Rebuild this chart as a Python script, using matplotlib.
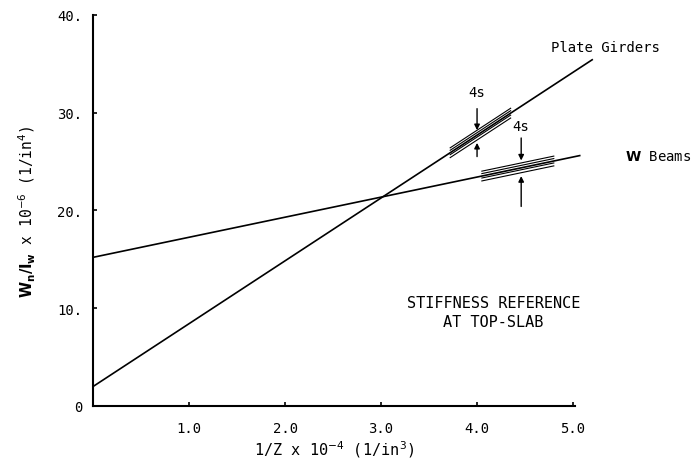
import matplotlib.pyplot as plt

# data
x_ticks = [1.0, 2.0, 3.0, 4.0, 5.0]
x_tick_labels = ['1.0', '2.0', '3.0', '4.0', '5.0']
y_ticks = [0, 10, 20, 30, 40]
y_tick_labels = ['0', '10.', '20.', '30.', '40.']

girder_x = [0.0, 5.2]
girder_y = [2.0, 35.4]
beam_x = [0.0, 5.07]
beam_y = [15.2, 25.6]

# scatter bands (x from, x to) and offsets from the fit line
girder_band = [3.72, 4.35]
beam_band = [4.05, 4.8]
band_offsets = [-0.5, -0.2, 0.25, 0.5]

# 4s arrows: x, outer top, tip top, tip bottom, outer bottom, label y
girder_arrow = [4.0, 30.4, 28.2, 26.9, 25.5, 32.1]
beam_arrow = [4.46, 27.4, 25.1, 23.5, 20.4, 28.6]

font = 'DejaVu Sans Mono'
plt.rcParams['mathtext.fontset'] = 'dejavusans'


def line_at(xs, ys, x):
    return ys[0] + (ys[1] - ys[0]) * (x - xs[0]) / (xs[1] - xs[0])


fig = plt.figure(figsize=(6.91, 4.64), dpi=100)
ax = fig.add_axes([0.135, 0.123, 0.697, 0.843])

ax.plot(girder_x, girder_y, color='black', lw=1.2, clip_on=False)
ax.plot(beam_x, beam_y, color='black', lw=1.2, clip_on=False)

for xs, ys, band in [(girder_x, girder_y, girder_band), (beam_x, beam_y, beam_band)]:
    for off in band_offsets:
        y0 = line_at(xs, ys, band[0]) + off
        y1 = line_at(xs, ys, band[1]) + off
        ax.plot(band, [y0, y1], color='black', lw=0.8, clip_on=False)

for a in [girder_arrow, beam_arrow]:
    x = a[0]
    ax.annotate('', xy=(x, a[2]), xytext=(x, a[1]),
                arrowprops=dict(arrowstyle='-|>', color='black', lw=1.0,
                                mutation_scale=8, shrinkA=0, shrinkB=0))
    ax.annotate('', xy=(x, a[3]), xytext=(x, a[4]),
                arrowprops=dict(arrowstyle='-|>', color='black', lw=1.0,
                                mutation_scale=8, shrinkA=0, shrinkB=0))
    ax.text(x, a[5], '4s', ha='center', va='center', fontsize=10, family=font)

ax.text(4.77, 36.7, 'Plate Girders', ha='left', va='center', fontsize=10, family=font)
ax.text(5.54, 25.6, r'$\mathbf{W}$ Beams', ha='left', va='center', fontsize=10,
        family=font, clip_on=False)
ax.text(4.17, 9.6, 'STIFFNESS REFERENCE\nAT TOP-SLAB', ha='center', va='center',
        fontsize=11, family=font, linespacing=1.4)

ax.set_xlim(0, 5.02)
ax.set_ylim(0, 40)
ax.set_xticks(x_ticks)
ax.set_xticklabels(x_tick_labels, family=font, fontsize=10)
ax.set_yticks(y_ticks)
ax.set_yticklabels(y_tick_labels, family=font, fontsize=10)
ax.tick_params(direction='in', length=3, width=1.2)
ax.tick_params(axis='x', pad=11)
ax.tick_params(axis='y', pad=8)

ax.spines['top'].set_visible(False)
ax.spines['right'].set_visible(False)
ax.spines['left'].set_linewidth(1.5)
ax.spines['bottom'].set_linewidth(1.5)

ax.set_xlabel(r'1/Z x 10$^{-4}$ (1/in$^3$)', family=font, fontsize=11, labelpad=2)
ax.set_ylabel(r'$\mathbf{W_n/I_w}$ x 10$^{-6}$ (1/in$^4$)', family=font,
              fontsize=10.5, labelpad=14)

fig.savefig('out.png', dpi=100)
